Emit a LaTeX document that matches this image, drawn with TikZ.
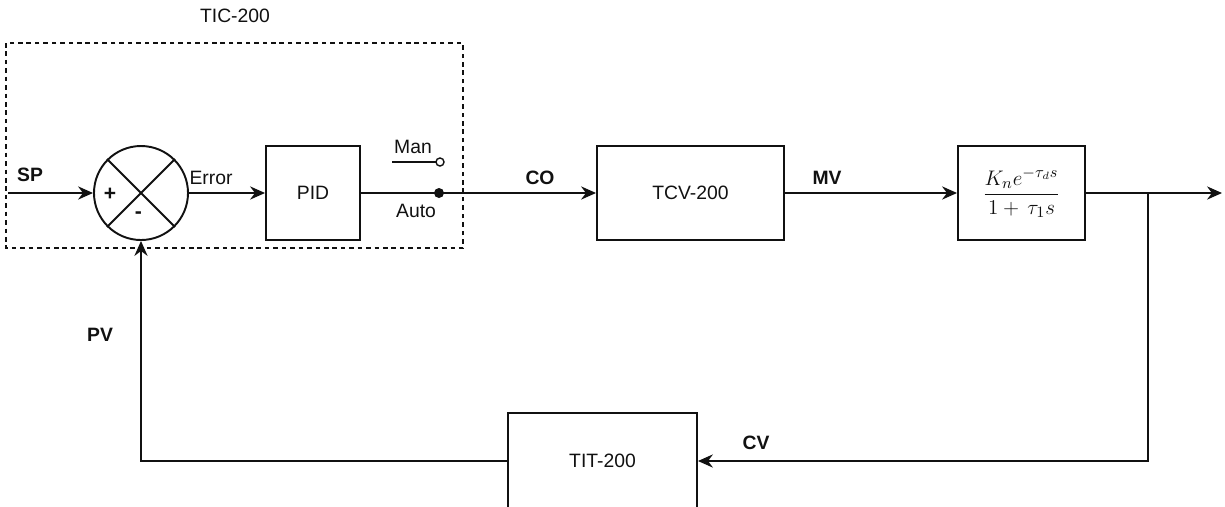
\documentclass[tikz,border=0pt]{standalone}
\usepackage{amsmath}
\usepackage{fontspec}
\setmainfont{Liberation Sans}
\usetikzlibrary{arrows.meta,calc}
\definecolor{ink}{HTML}{111111}

\begin{document}
\begin{tikzpicture}[font=\fontsize{11}{13}\selectfont,text=ink,line width=1.1pt,
    >={Stealth[length=8.5pt,width=7.5pt]},
    block/.style={draw=ink,minimum height=1.88cm,inner sep=0pt},
    sig/.style={font=\fontsize{11}{13}\selectfont\bfseries}]
  \clip (0,0) rectangle (24.5,-10.12);
  % controller TIC-200
  \draw[ink,dash pattern=on 2.6pt off 2.2pt] (0.12,-0.86) rectangle (9.26,-4.96);
  \node (tic) at (4.7,-0.32) {TIC-200};
  \node[draw=ink,circle,minimum size=1.88cm,inner sep=0pt] (sum) at (2.82,-3.86) {};
  \draw[ink] (sum.north west)--(sum.south east);
  \draw[ink] (sum.south west)--(sum.north east);
  \node[font=\fontsize{12}{12}\selectfont\bfseries] (plus) at (2.2,-3.88) {+};
  \node[font=\fontsize{12}{12}\selectfont\bfseries] (minus) at (2.77,-4.3) {-};
  \node[block,minimum width=1.88cm] (pid) at (6.26,-3.86) {PID};
  \coordinate (sp) at (0.16,-3.86);
  \node[sig] (splbl) at (0.6,-3.5) {SP};
  \draw[ink,->] (sp)--(sum.west);
  \draw[ink,->] (sum.east)--(pid.west);
  \node (err) at (4.22,-3.56) {Error};
  % switch
  \fill[ink] (8.78,-3.86) circle (0.1);
  \coordinate (auto) at (8.78,-3.86);
  \draw[ink,fill=white,line width=0.8pt] (8.8,-3.24) circle (0.08);
  \coordinate (man) at (8.72,-3.24);
  \draw[ink] (7.84,-3.24)--(man);
  \node (manlbl) at (8.26,-2.94) {Man};
  \node (autolbl) at (8.32,-4.22) {Auto};
  % forward path
  \node[block,minimum width=3.74cm] (tcv) at (13.81,-3.86) {TCV-200};
  \node[block,minimum width=2.54cm,font=\fontsize{12.5}{15}\selectfont] (plant) at (20.43,-3.86)
    {$\displaystyle\frac{K_n e^{-\tau_d s}}{1+\,\tau_1 s}$};
  \draw[ink,->] (pid.east)--(tcv.west);
  \node[sig] (co) at (10.8,-3.56) {CO};
  \draw[ink,->] (tcv.east)--(plant.west);
  \node[sig] (mv) at (16.54,-3.56) {MV};
  \coordinate (out) at (24.44,-3.86);
  \coordinate (br) at (22.96,-3.86);
  \draw[ink,->] (plant.east)--(out);
  % feedback
  \node[block,minimum width=3.78cm,minimum height=1.92cm] (tit) at (12.05,-9.22) {TIT-200};
  \draw[ink,->] (br)|-(tit.east);
  \node[sig] (cv) at (15.12,-8.86) {CV};
  \draw[ink,->] (tit.west)-|(sum.south);
  \node[sig] (pv) at (2.0,-6.7) {PV};
\end{tikzpicture}
\end{document}
